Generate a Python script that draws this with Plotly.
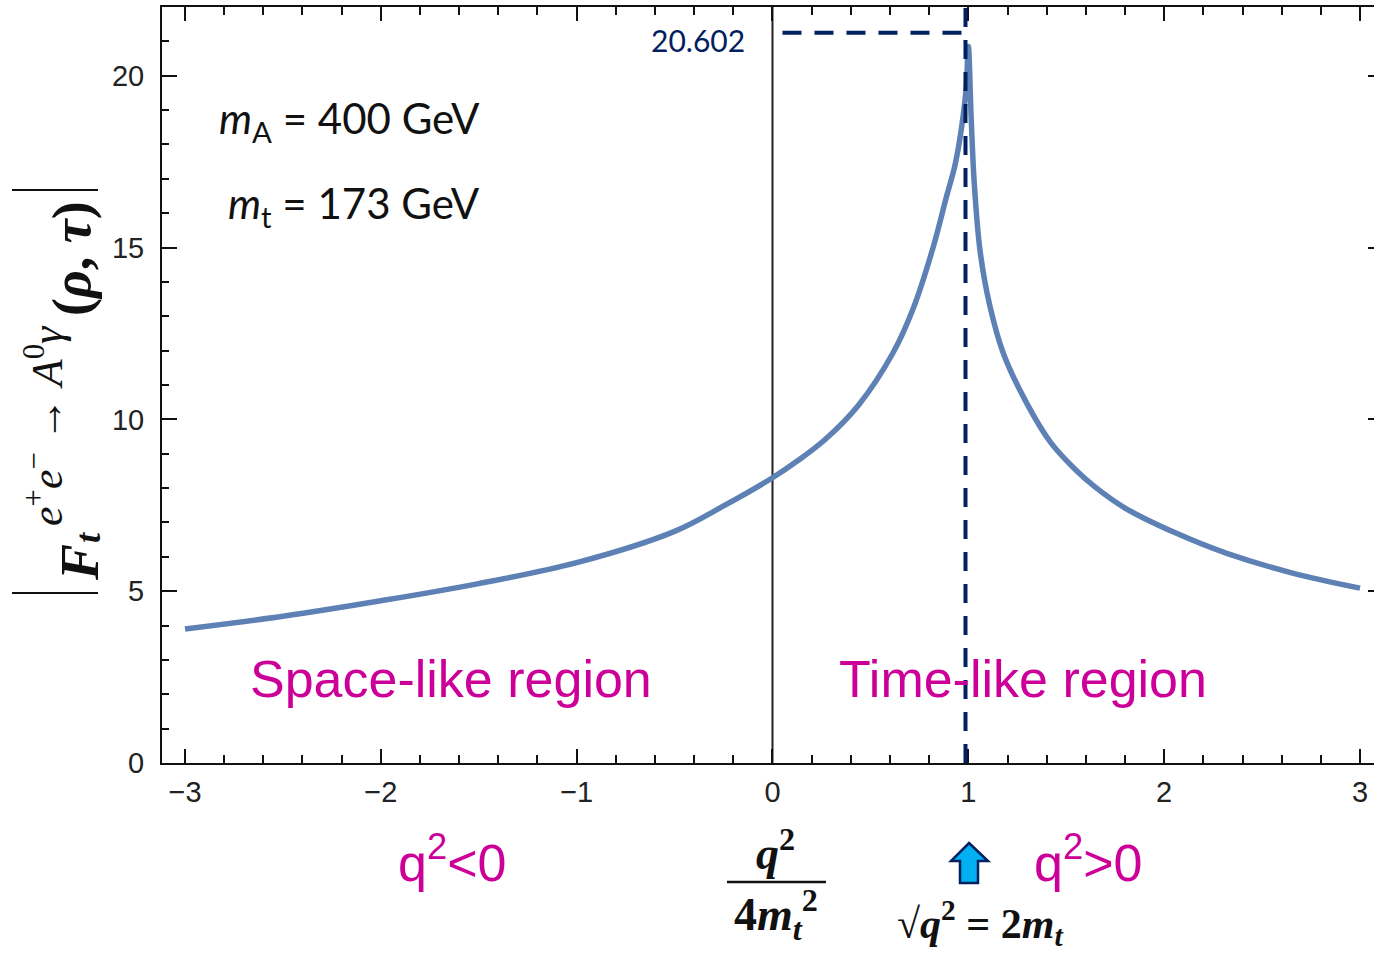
import plotly.graph_objects as go

# ---------------- data ----------------
q2_over_4mt2 = [-3.0, -2.5, -2.0, -1.5, -1.0, -0.5, -0.25, 0.0, 0.13, 0.27, 0.44, 0.615, 0.72,
                0.82, 0.887, 0.93, 0.955, 0.975, 0.99, 1.0, 1.015, 1.03, 1.06, 1.11,
                1.18, 1.3, 1.42, 1.55, 1.65, 1.8, 2.06, 2.32, 2.66, 3.0]
abs_Ft = [3.90, 4.27, 4.72, 5.22, 5.83, 6.74, 7.48, 8.30, 8.80, 9.42, 10.42, 11.93, 13.25,
          15.0, 16.45, 17.35, 18.1, 18.9, 19.7, 20.85, 18.7, 16.9, 14.9, 13.3,
          11.9, 10.45, 9.33, 8.52, 8.02, 7.42, 6.69, 6.10, 5.52, 5.09]

x_ticks = [-3, -2, -1, 0, 1, 2, 3]
y_ticks = [0, 5, 10, 15, 20]
x_range = [-3.1174, 3.0715]
y_range = [0, 22.0]

peak_x_marker = 0.9855       # dashed vertical guide
peak_label_y = 21.25         # dashed horizontal guide
peak_label = "20.602"
guide_x_start = 0.051

# ---------------- layout helpers (pixel -> paper) ----------------
W, H = 1374, 954
PL, PR, PT, PB = 162, 1374, 7, 763


def px(xp):
    return (xp - PL) / (PR - PL)


def py(yp):
    return (PB - yp) / (PB - PT)


NAVY = "#002060"
MAGENTA = "#CC0099"
CURVE = "#5E81B5"

fig = go.Figure()
fig.add_trace(go.Scatter(
    x=q2_over_4mt2, y=abs_Ft, mode="lines",
    line=dict(color=CURVE, width=5.5, shape="spline", smoothing=1.0),
    showlegend=False, hoverinfo="x+y"))
# invisible trace to activate the right-hand tick axis
fig.add_trace(go.Scatter(x=[q2_over_4mt2[0]], y=[abs_Ft[0]], yaxis="y2", mode="markers",
                         marker=dict(opacity=0), showlegend=False, hoverinfo="skip"))

tickfont = dict(family="Liberation Sans, Arial, sans-serif", size=29, color="#222")

fig.update_layout(
    width=W, height=H,
    margin=dict(l=PL, r=W - PR, t=PT, b=H - PB),
    paper_bgcolor="white", plot_bgcolor="white",
    xaxis=dict(range=x_range, tickvals=x_ticks, ticks="inside", ticklen=14, tickwidth=2,
               tickcolor="#111", showline=True, linecolor="#111", linewidth=2,
               mirror="ticks", showgrid=False, zeroline=False, tickfont=tickfont,
               ticklabelstandoff=2,
               minor=dict(dtick=0.2, tick0=0, ticks="inside", ticklen=8, tickwidth=2,
                          tickcolor="#111", showgrid=False)),
    yaxis=dict(range=y_range, tickvals=y_ticks, ticks="inside", ticklen=15, tickwidth=2,
               tickcolor="#111", showline=True, linecolor="#111", linewidth=2,
               mirror=False, showgrid=False, zeroline=False, tickfont=tickfont,
               ticklabelstandoff=10,
               minor=dict(dtick=1, tick0=0, ticks="inside", ticklen=7, tickwidth=2,
                          tickcolor="#111", showgrid=False)),
    yaxis2=dict(range=y_range, overlaying="y", side="right", tickvals=y_ticks,
                ticks="inside", ticklen=6, tickwidth=2, tickcolor="#111",
                showticklabels=False, showline=False, showgrid=False, zeroline=False),
)

shapes = []
# vertical line at q^2 = 0
shapes.append(dict(type="line", xref="x", yref="paper", x0=0, x1=0, y0=0, y1=1,
                   line=dict(color="#222", width=2), layer="below"))
# dashed guides
shapes.append(dict(type="line", xref="x", yref="paper", x0=peak_x_marker, x1=peak_x_marker,
                   y0=0, y1=py(4), line=dict(color=NAVY, width=4, dash="19px,13px"),
                   layer="above"))
shapes.append(dict(type="line", xref="x", yref="y", x0=guide_x_start, x1=peak_x_marker,
                   y0=peak_label_y, y1=peak_label_y,
                   line=dict(color=NAVY, width=4, dash="19px,13px"), layer="above"))
# absolute value bars of the y title
for yb in (190, 593):
    shapes.append(dict(type="line", xref="paper", yref="paper", x0=px(12), x1=px(98),
                       y0=py(yb), y1=py(yb), line=dict(color="#111", width=2)))
# fraction bar of x title
shapes.append(dict(type="line", xref="paper", yref="paper", x0=px(727), x1=px(826),
                   y0=py(882), y1=py(882), line=dict(color="#111", width=2.5)))
# block up-arrow
arrow_pts = [(969, 843), (988, 861), (978, 861), (978, 883), (960, 883), (960, 861), (951, 861)]
path = "M " + " L ".join(f"{px(a):.5f},{py(b):.5f}" for a, b in arrow_pts) + " Z"
shapes.append(dict(type="path", xref="paper", yref="paper", path=path,
                   fillcolor="#00B0F0", line=dict(color=NAVY, width=2.5)))
fig.update_layout(shapes=shapes)

ann = []


def add_text(text, xp, yp, size, color="#111", family="Liberation Sans, Arial, sans-serif",
             xanchor="center", yanchor="middle", angle=0):
    ann.append(dict(text=text, x=px(xp), y=py(yp), xref="paper", yref="paper",
                    showarrow=False, xanchor=xanchor, yanchor=yanchor, textangle=angle,
                    font=dict(size=size, color=color, family=family)))


add_text(peak_label, 747, 40, 30, color=NAVY, family="Lato, Liberation Sans, sans-serif",
         xanchor="right")
add_text("<i>m</i><sub>A</sub> = 400 GeV", 482, 121, 42, family="Lato, sans-serif",
         xanchor="right")
add_text("<i>m</i><sub>t</sub> = 173 GeV", 482, 206, 42, family="Lato, sans-serif",
         xanchor="right")
add_text("Space-like region", 451, 679, 52, color=MAGENTA)
add_text("Time-like region", 1023, 679, 52, color=MAGENTA)
add_text("q<sup>2</sup><0", 452, 859, 52, color=MAGENTA)
add_text("q<sup>2</sup>>0", 1088, 859, 52, color=MAGENTA)

SERIF = "Liberation Serif, Times New Roman, serif"
add_text("<b><i>q</i><sup>2</sup></b>", 775, 850, 46, family=SERIF)
add_text("<b>4<i>m</i><sub><i>t</i></sub><sup>2</sup></b>", 776, 915, 46, family=SERIF)
add_text("<b>√<i>q</i><sup>2</sup> = 2<i>m</i><sub><i>t</i></sub></b>", 980, 923, 42,
         family=SERIF)
# y-axis title, built from rotated pieces
add_text("<b><i>F</i></b>", 80, 563, 54, family=SERIF, angle=-90)
add_text("<b><i>t</i></b>", 88, 538, 36, family=SERIF, angle=-90)
add_text("<i>e</i><sup>+</sup><i>e</i><sup>−</sup> → <i>A</i><sup>0</sup><i>γ</i>",
         45, 426, 44, family=SERIF, angle=-90)
add_text("<b>(<i>ρ</i>, <i>τ</i>)</b>", 72, 259, 54, family=SERIF, angle=-90)
fig.update_layout(annotations=ann)

fig.write_html("out.html")
